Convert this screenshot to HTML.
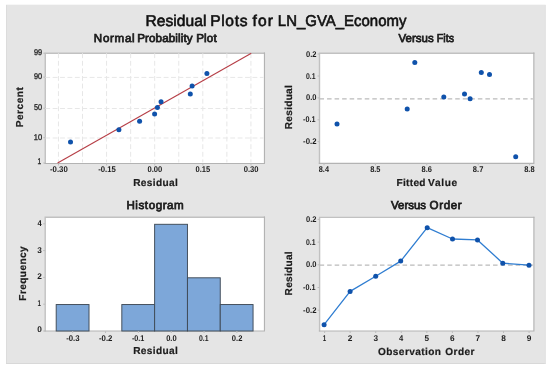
<!DOCTYPE html>
<html lang="en">
<head>
<meta charset="utf-8">
<title>Residual Plots for LN_GVA_Economy</title>
<style>
html,body{margin:0;padding:0;background:#ffffff;}
body{width:550px;height:369px;overflow:hidden;}
svg{display:block;font-family:"Liberation Sans", sans-serif;will-change:transform;}
text{font-family:"Liberation Sans", sans-serif;text-rendering:geometricPrecision;}
</style>
</head>
<body>
<svg width="550" height="369" viewBox="0 0 550 369">
<rect x="0" y="0" width="550" height="369" fill="#ffffff"/>
<rect x="6" y="4.7" width="539.7" height="359.3" fill="#e5e5e5"/>
<rect x="6" y="5" width="1" height="359" fill="#dcdcdc"/>
<rect x="6" y="363" width="539.7" height="1" fill="#d8d8d8"/>
<rect x="544.7" y="5" width="1" height="359" fill="#e2e2e2"/>
<text y="26.20" font-size="15.6" font-weight="normal" fill="#111111" stroke="#111111" stroke-width="0.6"><tspan x="145.41" textLength="61.12" lengthAdjust="spacing">Residual</tspan> <tspan x="210.21" textLength="37.24" lengthAdjust="spacing">Plots</tspan> <tspan x="252.47" textLength="20.46" lengthAdjust="spacing">for</tspan> <tspan x="277.87" textLength="128.56" lengthAdjust="spacingAndGlyphs">LN_GVA_Economy</tspan></text>
<rect x="45.25" y="53.25" width="219.20" height="110.20" fill="#ffffff"/>
<path d="M45.25 164.02V53.25H265.02" fill="none" stroke="#c1c1c1" stroke-width="1.4"/>
<path d="M44.55 163.45H264.45V52.55" fill="none" stroke="#b3b3b3" stroke-width="1.15"/>
<line x1="58.45" y1="53.25" x2="58.45" y2="162.45" stroke="#e7e7e7" stroke-width="1" stroke-dasharray="4.9 2.68"/>
<line x1="82.51" y1="53.25" x2="82.51" y2="162.45" stroke="#e7e7e7" stroke-width="1" stroke-dasharray="4.9 2.68"/>
<line x1="106.57" y1="53.25" x2="106.57" y2="162.45" stroke="#e7e7e7" stroke-width="1" stroke-dasharray="4.9 2.68"/>
<line x1="130.63" y1="53.25" x2="130.63" y2="162.45" stroke="#e7e7e7" stroke-width="1" stroke-dasharray="4.9 2.68"/>
<line x1="154.69" y1="53.25" x2="154.69" y2="162.45" stroke="#e7e7e7" stroke-width="1" stroke-dasharray="4.9 2.68"/>
<line x1="178.75" y1="53.25" x2="178.75" y2="162.45" stroke="#e7e7e7" stroke-width="1" stroke-dasharray="4.9 2.68"/>
<line x1="202.81" y1="53.25" x2="202.81" y2="162.45" stroke="#e7e7e7" stroke-width="1" stroke-dasharray="4.9 2.68"/>
<line x1="226.87" y1="53.25" x2="226.87" y2="162.45" stroke="#e7e7e7" stroke-width="1" stroke-dasharray="4.9 2.68"/>
<line x1="250.93" y1="53.25" x2="250.93" y2="162.45" stroke="#e7e7e7" stroke-width="1" stroke-dasharray="4.9 2.68"/>
<line x1="45.25" y1="77.40" x2="263.45" y2="77.40" stroke="#e7e7e7" stroke-width="1" stroke-dasharray="4.9 2.5"/>
<line x1="45.25" y1="108.50" x2="263.45" y2="108.50" stroke="#e7e7e7" stroke-width="1" stroke-dasharray="4.9 2.5"/>
<line x1="45.25" y1="138.00" x2="263.45" y2="138.00" stroke="#e7e7e7" stroke-width="1" stroke-dasharray="4.9 2.5"/>
<line x1="43.25" y1="53.20" x2="45.25" y2="53.20" stroke="#bdbdbd" stroke-width="1"/>
<line x1="43.25" y1="77.10" x2="45.25" y2="77.10" stroke="#bdbdbd" stroke-width="1"/>
<line x1="43.25" y1="108.20" x2="45.25" y2="108.20" stroke="#bdbdbd" stroke-width="1"/>
<line x1="43.25" y1="137.70" x2="45.25" y2="137.70" stroke="#bdbdbd" stroke-width="1"/>
<line x1="43.25" y1="163.00" x2="45.25" y2="163.00" stroke="#bdbdbd" stroke-width="1"/>
<line x1="58.50" y1="163.45" x2="58.50" y2="165.45" stroke="#bdbdbd" stroke-width="1"/>
<line x1="106.62" y1="163.45" x2="106.62" y2="165.45" stroke="#bdbdbd" stroke-width="1"/>
<line x1="154.74" y1="163.45" x2="154.74" y2="165.45" stroke="#bdbdbd" stroke-width="1"/>
<line x1="202.86" y1="163.45" x2="202.86" y2="165.45" stroke="#bdbdbd" stroke-width="1"/>
<line x1="250.98" y1="163.45" x2="250.98" y2="165.45" stroke="#bdbdbd" stroke-width="1"/>
<line x1="57.6" y1="163" x2="251.3" y2="53.2" stroke="#b63e46" stroke-width="1.1"/>
<circle cx="70.5" cy="142.0" r="2.5" fill="#0f52ab"/>
<circle cx="118.9" cy="129.7" r="2.5" fill="#0f52ab"/>
<circle cx="139.6" cy="121.2" r="2.5" fill="#0f52ab"/>
<circle cx="154.6" cy="113.9" r="2.5" fill="#0f52ab"/>
<circle cx="157.4" cy="107.5" r="2.5" fill="#0f52ab"/>
<circle cx="161.05" cy="101.7" r="2.5" fill="#0f52ab"/>
<circle cx="190.3" cy="94.1" r="2.5" fill="#0f52ab"/>
<circle cx="192.1" cy="85.9" r="2.5" fill="#0f52ab"/>
<circle cx="206.9" cy="73.6" r="2.5" fill="#0f52ab"/>
<text x="33.95" y="54.80" font-size="8.3" font-weight="normal" fill="#1c1c1c" stroke="#1c1c1c" stroke-width="0.3" textLength="8.20" lengthAdjust="spacingAndGlyphs">99</text>
<text x="33.95" y="78.60" font-size="8.3" font-weight="normal" fill="#1c1c1c" stroke="#1c1c1c" stroke-width="0.3" textLength="8.14" lengthAdjust="spacingAndGlyphs">90</text>
<text x="34.01" y="109.80" font-size="8.3" font-weight="normal" fill="#1c1c1c" stroke="#1c1c1c" stroke-width="0.3" textLength="8.08" lengthAdjust="spacingAndGlyphs">50</text>
<text x="33.74" y="140.10" font-size="8.3" font-weight="normal" fill="#1c1c1c" stroke="#1c1c1c" stroke-width="0.3" textLength="8.36" lengthAdjust="spacingAndGlyphs">10</text>
<text x="37.60" y="163.90" font-size="8.3" font-weight="normal" fill="#1c1c1c" stroke="#1c1c1c" stroke-width="0.3" textLength="3.73" lengthAdjust="spacingAndGlyphs">1</text>
<text x="50.04" y="172.25" font-size="8.3" font-weight="bold" fill="#1c1c1c" textLength="17.74" lengthAdjust="spacingAndGlyphs">-0.30</text>
<text x="98.16" y="172.25" font-size="8.3" font-weight="bold" fill="#1c1c1c" textLength="17.64" lengthAdjust="spacingAndGlyphs">-0.15</text>
<text x="147.44" y="172.25" font-size="8.3" font-weight="bold" fill="#1c1c1c" textLength="14.82" lengthAdjust="spacingAndGlyphs">0.00</text>
<text x="195.56" y="172.25" font-size="8.3" font-weight="bold" fill="#1c1c1c" textLength="14.72" lengthAdjust="spacingAndGlyphs">0.15</text>
<text x="243.68" y="172.25" font-size="8.3" font-weight="bold" fill="#1c1c1c" textLength="14.82" lengthAdjust="spacingAndGlyphs">0.30</text>
<text y="42.20" font-size="11.6" font-weight="normal" fill="#1c1c1c" stroke="#1c1c1c" stroke-width="0.75"><tspan x="93.84" textLength="40.84" lengthAdjust="spacing">Normal</tspan> <tspan x="137.14" textLength="55.48" lengthAdjust="spacing">Probability</tspan> <tspan x="196.14" textLength="20.55" lengthAdjust="spacing">Plot</tspan></text>
<text x="133.22" y="185.90" font-size="10.1" font-weight="bold" fill="#1c1c1c" stroke="#1c1c1c" stroke-width="0.2" textLength="44.60" lengthAdjust="spacing">Residual</text>
<text x="23.20" y="127.28" font-size="10.1" font-weight="bold" fill="#1c1c1c" stroke="#1c1c1c" stroke-width="0.2" textLength="40.12" lengthAdjust="spacing" transform="rotate(-90 23.20 127.28)">Percent</text>
<rect x="319.50" y="53.25" width="214.35" height="110.05" fill="#ffffff"/>
<path d="M319.50 163.88V53.25H534.43" fill="none" stroke="#c1c1c1" stroke-width="1.4"/>
<path d="M318.80 163.30H533.85V52.55" fill="none" stroke="#b3b3b3" stroke-width="1.15"/>
<line x1="319.50" y1="98.90" x2="532.85" y2="98.90" stroke="#bbbbbb" stroke-width="1.15" stroke-dasharray="4.55 2.99"/>
<line x1="317.50" y1="54.00" x2="319.50" y2="54.00" stroke="#bdbdbd" stroke-width="1"/>
<line x1="317.50" y1="76.00" x2="319.50" y2="76.00" stroke="#bdbdbd" stroke-width="1"/>
<line x1="317.50" y1="97.90" x2="319.50" y2="97.90" stroke="#bdbdbd" stroke-width="1"/>
<line x1="317.50" y1="119.80" x2="319.50" y2="119.80" stroke="#bdbdbd" stroke-width="1"/>
<line x1="317.50" y1="141.70" x2="319.50" y2="141.70" stroke="#bdbdbd" stroke-width="1"/>
<line x1="324.00" y1="163.30" x2="324.00" y2="165.30" stroke="#bdbdbd" stroke-width="1"/>
<line x1="375.40" y1="163.30" x2="375.40" y2="165.30" stroke="#bdbdbd" stroke-width="1"/>
<line x1="426.80" y1="163.30" x2="426.80" y2="165.30" stroke="#bdbdbd" stroke-width="1"/>
<line x1="478.20" y1="163.30" x2="478.20" y2="165.30" stroke="#bdbdbd" stroke-width="1"/>
<line x1="529.60" y1="163.30" x2="529.60" y2="165.30" stroke="#bdbdbd" stroke-width="1"/>
<circle cx="337" cy="124" r="2.5" fill="#0f52ab"/>
<circle cx="407.2" cy="109.1" r="2.5" fill="#0f52ab"/>
<circle cx="414.8" cy="62.6" r="2.5" fill="#0f52ab"/>
<circle cx="443.8" cy="97.1" r="2.5" fill="#0f52ab"/>
<circle cx="464.5" cy="94.1" r="2.5" fill="#0f52ab"/>
<circle cx="470.1" cy="98.7" r="2.5" fill="#0f52ab"/>
<circle cx="481.3" cy="72.6" r="2.5" fill="#0f52ab"/>
<circle cx="489.5" cy="74.6" r="2.5" fill="#0f52ab"/>
<circle cx="515.7" cy="156.75" r="2.5" fill="#0f52ab"/>
<text x="306.00" y="56.50" font-size="8.3" font-weight="bold" fill="#1c1c1c" textLength="10.51" lengthAdjust="spacingAndGlyphs">0.2</text>
<text x="306.02" y="78.50" font-size="8.3" font-weight="bold" fill="#1c1c1c" textLength="9.57" lengthAdjust="spacingAndGlyphs">0.1</text>
<text x="306.00" y="100.40" font-size="8.3" font-weight="bold" fill="#1c1c1c" textLength="10.51" lengthAdjust="spacingAndGlyphs">0.0</text>
<text x="303.11" y="122.30" font-size="8.3" font-weight="bold" fill="#1c1c1c" textLength="12.49" lengthAdjust="spacingAndGlyphs">-0.1</text>
<text x="303.09" y="144.20" font-size="8.3" font-weight="bold" fill="#1c1c1c" textLength="13.43" lengthAdjust="spacingAndGlyphs">-0.2</text>
<text x="318.81" y="172.25" font-size="8.3" font-weight="bold" fill="#1c1c1c" textLength="10.18" lengthAdjust="spacingAndGlyphs">8.4</text>
<text x="370.16" y="172.25" font-size="8.3" font-weight="bold" fill="#1c1c1c" textLength="10.35" lengthAdjust="spacingAndGlyphs">8.5</text>
<text x="421.51" y="172.25" font-size="8.3" font-weight="bold" fill="#1c1c1c" textLength="10.41" lengthAdjust="spacingAndGlyphs">8.6</text>
<text x="472.86" y="172.25" font-size="8.3" font-weight="bold" fill="#1c1c1c" textLength="10.47" lengthAdjust="spacingAndGlyphs">8.7</text>
<text x="524.21" y="172.25" font-size="8.3" font-weight="bold" fill="#1c1c1c" textLength="10.37" lengthAdjust="spacingAndGlyphs">8.8</text>
<text y="42.20" font-size="11.6" font-weight="normal" fill="#1c1c1c" stroke="#1c1c1c" stroke-width="0.75"><tspan x="398.59" textLength="35.11" lengthAdjust="spacingAndGlyphs">Versus</tspan> <tspan x="436.82" textLength="17.16" lengthAdjust="spacingAndGlyphs">Fits</tspan></text>
<text y="185.90" font-size="10.1" font-weight="bold" fill="#1c1c1c" stroke="#1c1c1c" stroke-width="0.2"><tspan x="396.42" textLength="29.06" lengthAdjust="spacing">Fitted</tspan> <tspan x="428.12" textLength="29.01" lengthAdjust="spacing">Value</tspan></text>
<text x="292.45" y="129.18" font-size="10.1" font-weight="bold" fill="#1c1c1c" stroke="#1c1c1c" stroke-width="0.2" textLength="44.00" lengthAdjust="spacing" transform="rotate(-90 292.45 129.18)">Residual</text>
<rect x="45.20" y="217.30" width="219.25" height="113.70" fill="#ffffff"/>
<path d="M45.20 331.57V217.30H265.02" fill="none" stroke="#c1c1c1" stroke-width="1.4"/>
<path d="M44.50 331.00H264.45V216.60" fill="none" stroke="#b3b3b3" stroke-width="1.15"/>
<rect x="56.20" y="304.55" width="32.81" height="26.45" fill="#7da7d9" stroke="#3f4a56" stroke-width="0.95"/>
<rect x="121.82" y="304.55" width="32.81" height="26.45" fill="#7da7d9" stroke="#3f4a56" stroke-width="0.95"/>
<rect x="154.63" y="224.30" width="32.81" height="106.70" fill="#7da7d9" stroke="#3f4a56" stroke-width="0.95"/>
<rect x="187.44" y="277.80" width="32.81" height="53.20" fill="#7da7d9" stroke="#3f4a56" stroke-width="0.95"/>
<rect x="220.25" y="304.55" width="32.81" height="26.45" fill="#7da7d9" stroke="#3f4a56" stroke-width="0.95"/>
<line x1="43.20" y1="331.00" x2="45.20" y2="331.00" stroke="#bdbdbd" stroke-width="1"/>
<text x="37.17" y="332.10" font-size="8.3" font-weight="bold" fill="#1c1c1c" textLength="4.77" lengthAdjust="spacing">0</text>
<line x1="43.20" y1="304.20" x2="45.20" y2="304.20" stroke="#bdbdbd" stroke-width="1"/>
<text x="37.51" y="306.00" font-size="8.3" font-weight="bold" fill="#1c1c1c" textLength="3.47" lengthAdjust="spacingAndGlyphs">1</text>
<line x1="43.20" y1="277.40" x2="45.20" y2="277.40" stroke="#bdbdbd" stroke-width="1"/>
<text x="37.21" y="279.20" font-size="8.3" font-weight="bold" fill="#1c1c1c" textLength="4.73" lengthAdjust="spacing">2</text>
<line x1="43.20" y1="250.60" x2="45.20" y2="250.60" stroke="#bdbdbd" stroke-width="1"/>
<text x="37.31" y="252.70" font-size="8.3" font-weight="bold" fill="#1c1c1c" textLength="4.58" lengthAdjust="spacingAndGlyphs">3</text>
<line x1="43.20" y1="223.80" x2="45.20" y2="223.80" stroke="#bdbdbd" stroke-width="1"/>
<text x="37.39" y="225.70" font-size="8.3" font-weight="bold" fill="#1c1c1c" textLength="4.26" lengthAdjust="spacingAndGlyphs">4</text>
<line x1="72.70" y1="331.00" x2="72.70" y2="333.00" stroke="#bdbdbd" stroke-width="1"/>
<text x="66.19" y="340.60" font-size="8.3" font-weight="bold" fill="#1c1c1c" textLength="13.39" lengthAdjust="spacingAndGlyphs">-0.3</text>
<line x1="105.54" y1="331.00" x2="105.54" y2="333.00" stroke="#bdbdbd" stroke-width="1"/>
<text x="99.03" y="340.60" font-size="8.3" font-weight="bold" fill="#1c1c1c" textLength="13.43" lengthAdjust="spacingAndGlyphs">-0.2</text>
<line x1="138.38" y1="331.00" x2="138.38" y2="333.00" stroke="#bdbdbd" stroke-width="1"/>
<text x="131.89" y="340.60" font-size="8.3" font-weight="bold" fill="#1c1c1c" textLength="12.49" lengthAdjust="spacingAndGlyphs">-0.1</text>
<line x1="171.22" y1="331.00" x2="171.22" y2="333.00" stroke="#bdbdbd" stroke-width="1"/>
<text x="166.17" y="340.60" font-size="8.3" font-weight="bold" fill="#1c1c1c" textLength="10.51" lengthAdjust="spacingAndGlyphs">0.0</text>
<line x1="204.06" y1="331.00" x2="204.06" y2="333.00" stroke="#bdbdbd" stroke-width="1"/>
<text x="199.03" y="340.60" font-size="8.3" font-weight="bold" fill="#1c1c1c" textLength="9.57" lengthAdjust="spacingAndGlyphs">0.1</text>
<line x1="236.90" y1="331.00" x2="236.90" y2="333.00" stroke="#bdbdbd" stroke-width="1"/>
<text x="231.85" y="340.60" font-size="8.3" font-weight="bold" fill="#1c1c1c" textLength="10.51" lengthAdjust="spacingAndGlyphs">0.2</text>
<text x="126.44" y="209.10" font-size="11.6" font-weight="normal" fill="#1c1c1c" stroke="#1c1c1c" stroke-width="0.75" textLength="57.30" lengthAdjust="spacing">Histogram</text>
<text x="133.22" y="354.40" font-size="10.1" font-weight="bold" fill="#1c1c1c" stroke="#1c1c1c" stroke-width="0.2" textLength="44.60" lengthAdjust="spacing">Residual</text>
<text x="26.30" y="300.68" font-size="10.1" font-weight="bold" fill="#1c1c1c" stroke="#1c1c1c" stroke-width="0.2" textLength="54.36" lengthAdjust="spacing" transform="rotate(-90 26.30 300.68)">Frequency</text>
<rect x="319.60" y="217.40" width="214.30" height="113.60" fill="#ffffff"/>
<path d="M319.60 331.57V217.40H534.48" fill="none" stroke="#c1c1c1" stroke-width="1.4"/>
<path d="M318.90 331.00H533.90V216.70" fill="none" stroke="#b3b3b3" stroke-width="1.15"/>
<line x1="319.60" y1="265.15" x2="532.90" y2="265.15" stroke="#bbbbbb" stroke-width="1.1" stroke-dasharray="4.55 2.99"/>
<line x1="317.60" y1="219.40" x2="319.60" y2="219.40" stroke="#bdbdbd" stroke-width="1"/>
<line x1="317.60" y1="242.10" x2="319.60" y2="242.10" stroke="#bdbdbd" stroke-width="1"/>
<line x1="317.60" y1="264.80" x2="319.60" y2="264.80" stroke="#bdbdbd" stroke-width="1"/>
<line x1="317.60" y1="287.50" x2="319.60" y2="287.50" stroke="#bdbdbd" stroke-width="1"/>
<line x1="317.60" y1="310.20" x2="319.60" y2="310.20" stroke="#bdbdbd" stroke-width="1"/>
<polyline fill="none" stroke="#2f7dd1" stroke-width="1.3" stroke-linejoin="round" points="324.1,324.7 350.1,291.4 375.7,276.3 400.7,261.1 427.2,227.7 452.5,239.0 477.5,239.9 502.8,263.2 529,265.2"/>
<circle cx="324.1" cy="324.7" r="2.5" fill="#0f52ab"/>
<circle cx="350.1" cy="291.4" r="2.5" fill="#0f52ab"/>
<circle cx="375.7" cy="276.3" r="2.5" fill="#0f52ab"/>
<circle cx="400.7" cy="261.1" r="2.5" fill="#0f52ab"/>
<circle cx="427.2" cy="227.7" r="2.5" fill="#0f52ab"/>
<circle cx="452.5" cy="239.0" r="2.5" fill="#0f52ab"/>
<circle cx="477.5" cy="239.9" r="2.5" fill="#0f52ab"/>
<circle cx="502.8" cy="263.2" r="2.5" fill="#0f52ab"/>
<circle cx="529" cy="265.2" r="2.5" fill="#0f52ab"/>
<text x="306.00" y="221.90" font-size="8.3" font-weight="bold" fill="#1c1c1c" textLength="10.51" lengthAdjust="spacingAndGlyphs">0.2</text>
<text x="306.02" y="244.60" font-size="8.3" font-weight="bold" fill="#1c1c1c" textLength="9.57" lengthAdjust="spacingAndGlyphs">0.1</text>
<text x="306.00" y="267.30" font-size="8.3" font-weight="bold" fill="#1c1c1c" textLength="10.51" lengthAdjust="spacingAndGlyphs">0.0</text>
<text x="303.11" y="290.00" font-size="8.3" font-weight="bold" fill="#1c1c1c" textLength="12.49" lengthAdjust="spacingAndGlyphs">-0.1</text>
<text x="303.09" y="312.70" font-size="8.3" font-weight="bold" fill="#1c1c1c" textLength="13.43" lengthAdjust="spacingAndGlyphs">-0.2</text>
<line x1="324.60" y1="331.00" x2="324.60" y2="333.00" stroke="#bdbdbd" stroke-width="1"/>
<text x="322.76" y="340.70" font-size="8.3" font-weight="bold" fill="#1c1c1c" textLength="3.47" lengthAdjust="spacingAndGlyphs">1</text>
<line x1="350.16" y1="331.00" x2="350.16" y2="333.00" stroke="#bdbdbd" stroke-width="1"/>
<text x="347.82" y="340.70" font-size="8.3" font-weight="bold" fill="#1c1c1c" textLength="4.73" lengthAdjust="spacing">2</text>
<line x1="375.72" y1="331.00" x2="375.72" y2="333.00" stroke="#bdbdbd" stroke-width="1"/>
<text x="373.48" y="340.70" font-size="8.3" font-weight="bold" fill="#1c1c1c" textLength="4.58" lengthAdjust="spacingAndGlyphs">3</text>
<line x1="401.28" y1="331.00" x2="401.28" y2="333.00" stroke="#bdbdbd" stroke-width="1"/>
<text x="399.12" y="340.70" font-size="8.3" font-weight="bold" fill="#1c1c1c" textLength="4.26" lengthAdjust="spacingAndGlyphs">4</text>
<line x1="426.84" y1="331.00" x2="426.84" y2="333.00" stroke="#bdbdbd" stroke-width="1"/>
<text x="424.54" y="340.70" font-size="8.3" font-weight="bold" fill="#1c1c1c" textLength="4.58" lengthAdjust="spacingAndGlyphs">5</text>
<line x1="452.40" y1="331.00" x2="452.40" y2="333.00" stroke="#bdbdbd" stroke-width="1"/>
<text x="450.04" y="340.70" font-size="8.3" font-weight="bold" fill="#1c1c1c" textLength="4.71" lengthAdjust="spacing">6</text>
<line x1="477.96" y1="331.00" x2="477.96" y2="333.00" stroke="#bdbdbd" stroke-width="1"/>
<text x="475.56" y="340.70" font-size="8.3" font-weight="bold" fill="#1c1c1c" textLength="4.82" lengthAdjust="spacing">7</text>
<line x1="503.52" y1="331.00" x2="503.52" y2="333.00" stroke="#bdbdbd" stroke-width="1"/>
<text x="501.20" y="340.70" font-size="8.3" font-weight="bold" fill="#1c1c1c" textLength="4.63" lengthAdjust="spacing">8</text>
<line x1="529.08" y1="331.00" x2="529.08" y2="333.00" stroke="#bdbdbd" stroke-width="1"/>
<text x="526.74" y="340.70" font-size="8.3" font-weight="bold" fill="#1c1c1c" textLength="4.69" lengthAdjust="spacing">9</text>
<text y="209.10" font-size="11.6" font-weight="normal" fill="#1c1c1c" stroke="#1c1c1c" stroke-width="0.75"><tspan x="391.04" textLength="35.06" lengthAdjust="spacingAndGlyphs">Versus</tspan> <tspan x="429.55" textLength="32.04" lengthAdjust="spacing">Order</tspan></text>
<text y="354.50" font-size="10.1" font-weight="bold" fill="#1c1c1c" stroke="#1c1c1c" stroke-width="0.2"><tspan x="378.00" textLength="63.01" lengthAdjust="spacing">Observation</tspan> <tspan x="445.20" textLength="29.34" lengthAdjust="spacing">Order</tspan></text>
<text x="292.45" y="295.38" font-size="10.1" font-weight="bold" fill="#1c1c1c" stroke="#1c1c1c" stroke-width="0.2" textLength="44.00" lengthAdjust="spacing" transform="rotate(-90 292.45 295.38)">Residual</text>
</svg>
</body>
</html>
